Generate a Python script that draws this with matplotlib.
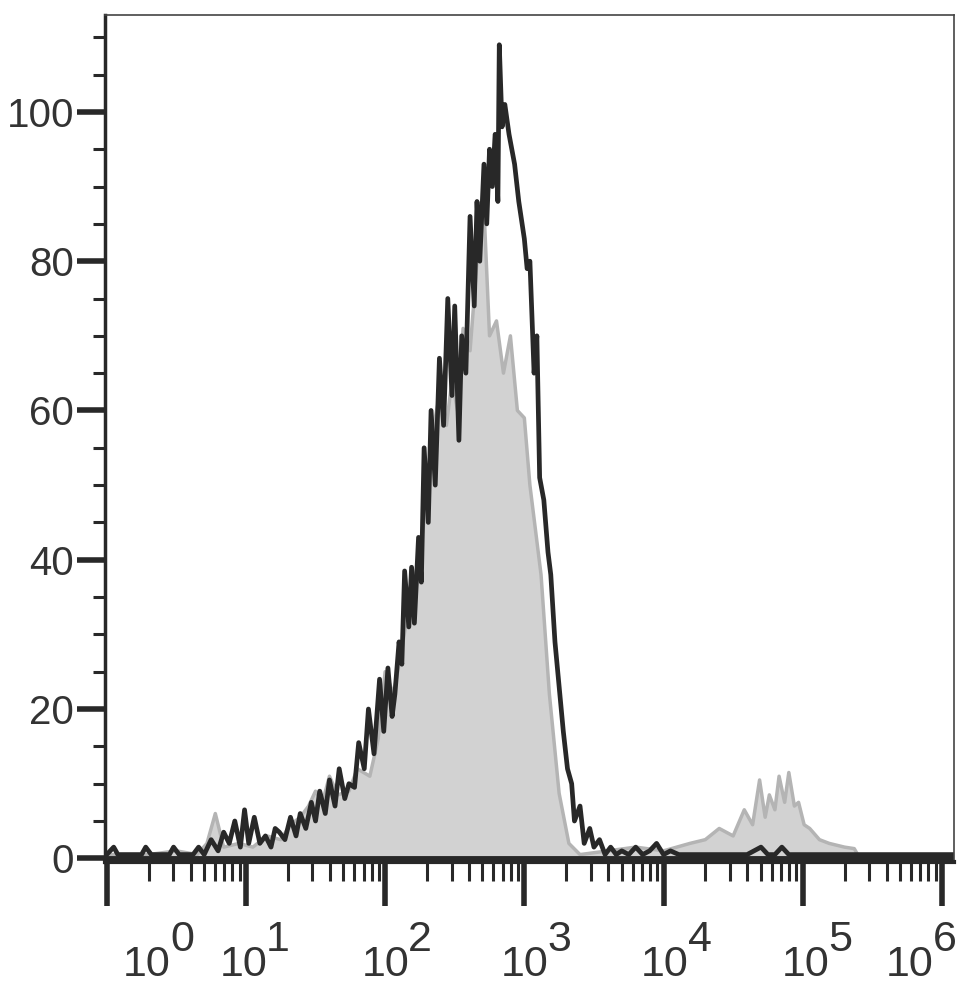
import matplotlib.pyplot as plt
import numpy as np
from matplotlib.transforms import blended_transform_factory

plt.rcParams['font.family'] = ['Liberation Sans', 'DejaVu Sans']

# x in decades (0 = 10^0), y = count
black_x = [0.00, 0.05, 0.08, 0.12, 0.25, 0.28, 0.32, 0.45, 0.48, 0.52, 0.62, 0.66, 0.70, 0.75, 0.80,
           0.84, 0.88, 0.92, 0.96, 0.99, 1.02, 1.06, 1.10, 1.14, 1.18, 1.21, 1.24, 1.28, 1.32, 1.36,
           1.39, 1.43, 1.47, 1.50, 1.53, 1.57, 1.60, 1.64, 1.67, 1.71, 1.74, 1.78, 1.81, 1.85, 1.88,
           1.92, 1.96, 1.99, 2.02, 2.05, 2.07, 2.10, 2.12, 2.14, 2.17, 2.19, 2.21, 2.24, 2.26, 2.28,
           2.31, 2.33, 2.36, 2.39, 2.42, 2.45, 2.48, 2.50, 2.53, 2.55, 2.58, 2.61, 2.64, 2.66, 2.68,
           2.71, 2.73, 2.75, 2.77, 2.79, 2.81, 2.82, 2.84, 2.86, 2.89, 2.93, 2.96, 3.00, 3.02, 3.04,
           3.07, 3.09, 3.11, 3.14, 3.17, 3.19, 3.22, 3.25, 3.28, 3.31, 3.34, 3.36, 3.40, 3.43, 3.47,
           3.50, 3.54, 3.58, 3.62, 3.66, 3.70, 3.75, 3.80, 3.85, 3.90, 3.95, 4.00, 4.05, 4.11, 4.20,
           4.40, 4.60, 4.70, 4.75, 4.80, 4.85, 4.90, 5.00, 5.20, 6.09]
black_y = [0.5, 1.5, 0.5, 0.5, 0.5, 1.5, 0.5, 0.5, 1.5, 0.5, 0.5, 1.5, 0.5, 2.5, 1.0,
           3.5, 2.0, 5.0, 1.5, 6.5, 2.0, 5.5, 2.0, 3.0, 1.5, 4.0, 3.5, 2.5, 5.5, 3.0,
           6.0, 4.0, 7.5, 5.0, 9.0, 6.0, 10.5, 7.0, 12.0, 8.0, 10.0, 9.5, 15.5, 12.0, 20.0,
           14.0, 24.0, 17.0, 25.5, 19.0, 22.0, 29.0, 26.0, 38.5, 31.0, 39.0, 31.5, 43.0, 37.0, 55.0,
           45.0, 60.0, 50.0, 67.0, 58.0, 75.0, 62.0, 74.0, 56.0, 70.0, 65.0, 86.0, 74.0, 88.0, 80.0,
           93.0, 85.0, 95.0, 90.0, 97.0, 88.0, 109.0, 98.0, 101.0, 97.0, 93.0, 88.0, 83.0, 79.0, 80.0,
           65.0, 70.0, 51.0, 48.0, 41.0, 38.0, 29.0, 23.0, 17.0, 12.0, 10.0, 5.0, 7.0, 2.0, 4.0,
           1.5, 2.5, 0.5, 1.5, 0.5, 1.0, 0.5, 1.5, 0.5, 1.0, 2.0, 0.5, 1.0, 0.5, 0.5,
           0.5, 0.5, 1.5, 0.5, 0.5, 1.5, 0.5, 0.5, 0.5, 0.5]

gray_x = [0.00, 0.30, 0.50, 0.65, 0.72, 0.78, 0.84, 0.95, 1.05, 1.15, 1.25, 1.32, 1.39, 1.45, 1.50,
          1.55, 1.60, 1.66, 1.74, 1.80, 1.89, 1.95, 2.00, 2.06, 2.12, 2.18, 2.24, 2.30, 2.35, 2.39,
          2.44, 2.48, 2.52, 2.56, 2.61, 2.66, 2.71, 2.75, 2.80, 2.85, 2.90, 2.95, 3.00, 3.04, 3.08,
          3.12, 3.18, 3.25, 3.32, 3.40, 3.60, 3.80, 4.00, 4.19, 4.30, 4.40, 4.50, 4.58, 4.64, 4.69,
          4.73, 4.76, 4.80, 4.83, 4.87, 4.90, 4.94, 4.97, 5.01, 5.05, 5.12, 5.19, 5.30, 5.37, 5.41,
          6.09]
gray_y = [0.5, 0.5, 1.0, 0.5, 2.0, 6.0, 1.5, 2.0, 1.5, 3.0, 2.5, 4.5, 5.5, 7.0, 9.0,
          7.5, 11.0, 8.5, 9.0, 12.0, 11.0, 16.0, 25.0, 22.0, 28.0, 35.0, 40.0, 48.0, 58.0, 62.0,
          58.0, 64.0, 60.0, 71.0, 68.0, 80.0, 87.0, 70.0, 72.0, 65.0, 70.0, 60.0, 59.0, 50.0, 44.0,
          38.0, 22.0, 8.7, 2.0, 0.5, 1.0, 1.5, 1.0, 2.0, 2.5, 4.0, 3.0, 6.5, 4.5, 10.5,
          5.5, 8.5, 6.5, 11.0, 7.5, 11.5, 7.0, 7.5, 4.5, 4.0, 2.5, 2.0, 1.5, 1.3, 0.0,
          0.0]

decades = np.arange(0, 7)
label_x = [0.29, 0.98, 2.00, 3.00, 4.01, 5.02, 5.77]

fig = plt.figure(figsize=(9.69, 9.92), dpi=100)
ax = fig.add_axes([0.108, 0.131, 0.877, 0.854])

ax.fill_between(gray_x, gray_y, 0, color='#d2d2d2', lw=0)
ax.plot(gray_x, gray_y, color='#b4b4b4', lw=2.5)
ax.plot(black_x, black_y, color='#282828', lw=3.4)
ax.axhline(0, color='#282828', lw=3.5)

ax.set_xlim(-0.015, 6.09)
ax.set_ylim(-0.5, 113)

ax.set_xticks(decades)
ax.set_xticklabels([])
minor = [d + np.log10(k) for d in range(6) for k in range(2, 10)]
ax.set_xticks(minor, minor=True)
ax.tick_params(axis='x', which='major', length=32, width=4, color='#282828')
ax.tick_params(axis='x', which='minor', length=14, width=2.2, color='#282828')

ax.set_yticks(np.arange(0, 101, 20))
ax.set_yticks(np.arange(0, 111, 5), minor=True)
ax.tick_params(axis='y', which='major', length=20, width=4, color='#282828',
               labelsize=29, labelcolor='#333333', pad=2)
ax.tick_params(axis='y', which='minor', length=9, width=2.2, color='#282828')

for side in ['top', 'right']:
    ax.spines[side].set_linewidth(1.2)
    ax.spines[side].set_color('#444444')
ax.spines['left'].set_linewidth(2.5)
ax.spines['bottom'].set_linewidth(3)
ax.spines['left'].set_color('#282828')
ax.spines['bottom'].set_color('#282828')

tr = blended_transform_factory(ax.transData, ax.transAxes)
for d, lx in zip(decades, label_x):
    ax.text(lx, -0.122, '10', transform=tr, ha='center', va='center', fontsize=31, color='#333333')
    ax.text(lx + 0.25, -0.092, str(d), transform=tr, ha='center', va='center', fontsize=31,
            color='#333333')

fig.savefig('out.png', dpi=100)
